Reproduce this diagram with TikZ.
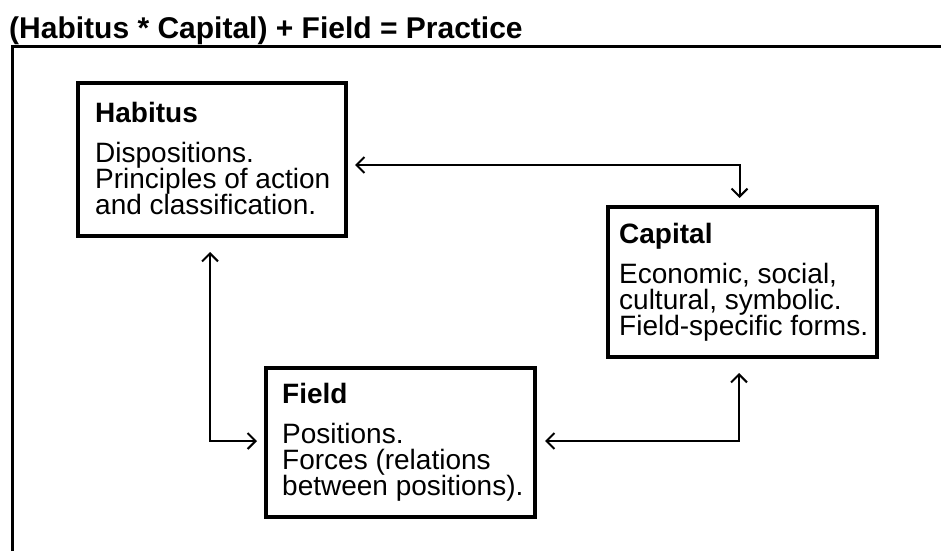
\documentclass[tikz,border=0pt]{standalone}
\usepackage{fontspec}
\setmainfont{Liberation Sans}
\usetikzlibrary{arrows.meta}
% stacked text with a fixed baseline distance
\newcommand{\boxtext}[2]{\parbox[t]{300pt}{\lineskiplimit=-100pt\relax
  \textbf{#1}\par\vspace{14pt}#2}}
\begin{document}
\begin{tikzpicture}[x=1pt, y=-1pt,
  box/.style={draw, line width=4pt, anchor=north west, inner sep=0pt, outer sep=0pt},
  conn/.style={line width=2pt,
    {Straight Barb[length=8pt,width=16pt]}-{Straight Barb[length=8pt,width=16pt]}},
  txt/.style={anchor=base west, inner sep=0pt,
    font=\fontsize{28}{26}\selectfont},
  heading/.style={anchor=base west, inner sep=0pt,
    font=\fontsize{30}{36}\selectfont\bfseries}]
\useasboundingbox (0,0) rectangle (941,551);
\fill[white] (0,0) rectangle (941,551);

% title and open frame
\node[heading] (title) at (9,38) {(Habitus * Capital) + Field = Practice};
\draw[line width=3pt, line join=miter] (12,551) -- (12,47) -- (941,47);

% the three boxes
\node[box, minimum width=268pt, minimum height=153pt] (habitus) at (78,83) {};
\node[box, minimum width=269pt, minimum height=150pt] (capital) at (608,207) {};
\node[box, minimum width=269pt, minimum height=149pt] (field)   at (266,368) {};

% box texts
\node[txt] (habitustext) at (95,122)
  {\boxtext{Habitus}{Dispositions.\\Principles of action\\and classification.}};
\node[txt] (capitaltext) at (619,243)
  {\boxtext{Capital}{Economic, social,\\cultural, symbolic.\\Field-specific forms.}};
\node[txt] (fieldtext) at (282,403)
  {\boxtext{Field}{Positions.\\Forces (relations\\between positions).}};

% connectors
\draw[conn, shorten <=9pt, shorten >=9pt]
  ([yshift=-5.5pt]habitus.east) -| ([xshift=-3pt]capital.north);
\draw[conn, shorten <=16pt, shorten >=9pt]
  ([xshift=-2pt]habitus.south) |- ([yshift=1.5pt]field.west);
\draw[conn, shorten <=10pt, shorten >=16pt]
  ([yshift=1.5pt]field.east) -| ([xshift=-3.5pt]capital.south);
\end{tikzpicture}
\end{document}
